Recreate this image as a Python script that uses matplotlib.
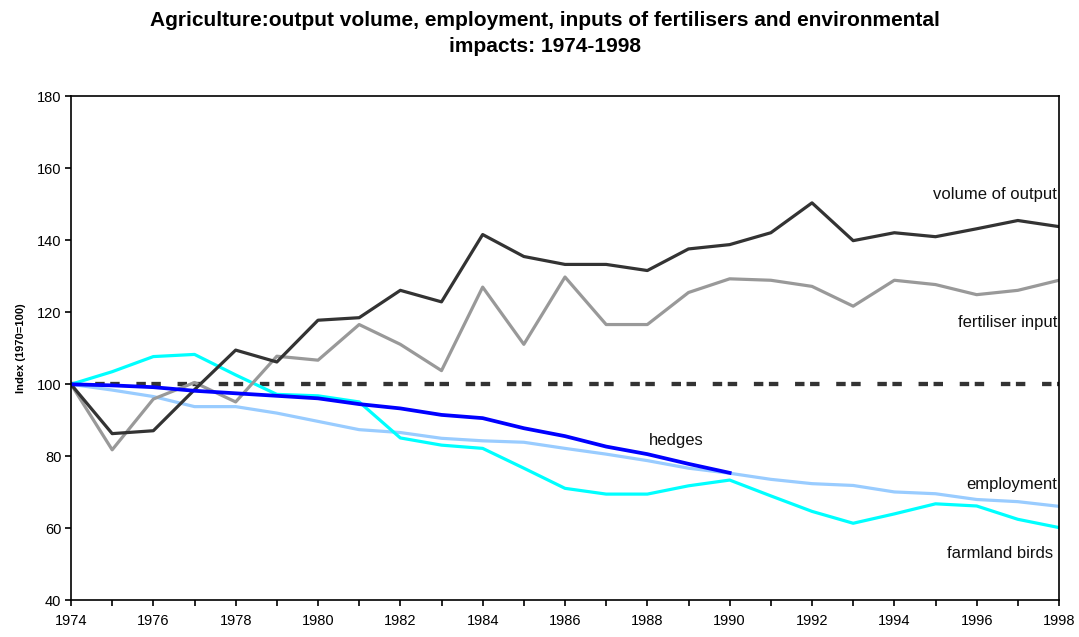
import matplotlib
matplotlib.use("Agg")
import matplotlib.pyplot as plt
from matplotlib.ticker import MultipleLocator

plt.rcParams['font.family'] = ['Liberation Sans', 'DejaVu Sans']
plt.rcParams['lines.scale_dashes'] = False

years = list(range(1974, 1999))
output_volume = [100, 86.3, 87.1, 98.5, 109.5, 106.2, 117.8, 118.5, 126.1, 122.9, 141.6, 135.5,
                 133.3, 133.3, 131.6, 137.6, 138.8, 142.1, 150.4, 139.9, 142.1, 141.0, 143.2, 145.5, 143.8]
fertiliser = [100, 81.8, 95.9, 100.5, 95.1, 107.8, 106.7, 116.6, 111.1, 103.8, 127.0, 111.1,
              129.8, 116.6, 116.6, 125.5, 129.3, 128.9, 127.2, 121.7, 128.9, 127.7, 124.9, 126.1, 128.9]
farmland_birds = [100, 103.5, 107.7, 108.3, 102.6, 97.2, 96.8, 95.1, 85.1, 83.1, 82.2, 76.7,
                  71.1, 69.5, 69.5, 71.8, 73.4, 69.0, 64.7, 61.4, 64.0, 66.8, 66.2, 62.5, 60.2]
employment = [100, 98.4, 96.6, 93.8, 93.8, 92.0, 89.7, 87.4, 86.6, 85.0, 84.3, 83.9,
              82.2, 80.6, 78.8, 76.7, 75.3, 73.6, 72.4, 71.9, 70.1, 69.6, 68.0, 67.4, 66.1]
hedge_years = list(range(1974, 1991))
hedges = [100, 99.7, 99.2, 98.2, 97.5, 96.8, 96.1, 94.5, 93.3, 91.5, 90.6, 87.8, 85.6, 82.7,
          80.6, 77.9, 75.4]
baseline = [100, 100]

title_lines = ['Agriculture:output volume, employment, inputs of fertilisers and environmental',
               'impacts: 1974-1998']

W, H = 1079, 637
fig = plt.figure(figsize=(W / 100, H / 100), dpi=100)
ax = fig.add_axes([71 / W, 1 - 600.3 / H, (1059 - 71) / W, (600.3 - 96.3) / H])

lw = 2.3
ax.plot([1974, 1998], baseline, color='#333333', lw=3.1,
        linestyle=(12.2, (6.8, 4.0, 6.8, 12.04)), dash_capstyle='butt')
ax.plot(years, employment, color='#99CCFF', lw=lw)
ax.plot(years, farmland_birds, color='#00FFFF', lw=lw)
ax.plot(years, fertiliser, color='#999999', lw=lw)
ax.plot(years, output_volume, color='#333333', lw=lw)
ax.plot(hedge_years, hedges, color='#0000FF', lw=2.7)

ax.set_xlim(1974, 1998)
ax.set_ylim(40, 180)
ax.yaxis.set_major_locator(MultipleLocator(20))
ax.xaxis.set_major_locator(MultipleLocator(2))
ax.xaxis.set_minor_locator(MultipleLocator(1))
ax.tick_params(axis='both', which='both', direction='out', length=4, width=1.2,
               labelsize=10.5, color='black')
ax.tick_params(axis='x', pad=6)
ax.tick_params(axis='y', pad=3)
for s in ax.spines.values():
    s.set_linewidth(1.2)
    s.set_color('black')

ax.set_ylabel('Index (1970=100)', fontsize=8, fontweight='bold', labelpad=8)

tk = dict(fontsize=12, color='#111111')
ax.text(1997.95, 152.6, 'volume of output', ha='right', va='center', **tk)
ax.text(1997.95, 117.3, 'fertiliser input', ha='right', va='center', **tk)
ax.text(1988.7, 84.3, 'hedges', ha='center', va='center', **tk)
ax.text(1997.95, 72.1, 'employment', ha='right', va='center', **tk)
ax.text(1997.85, 53.1, 'farmland birds', ha='right', va='center', **tk)

fig.text(0.505, 1 - 21 / H, title_lines[0], ha='center', va='center',
         fontsize=15, fontweight='bold')
fig.text(0.505, 1 - 47 / H, title_lines[1], ha='center', va='center',
         fontsize=15, fontweight='bold')

fig.savefig('out.png', dpi=100)
